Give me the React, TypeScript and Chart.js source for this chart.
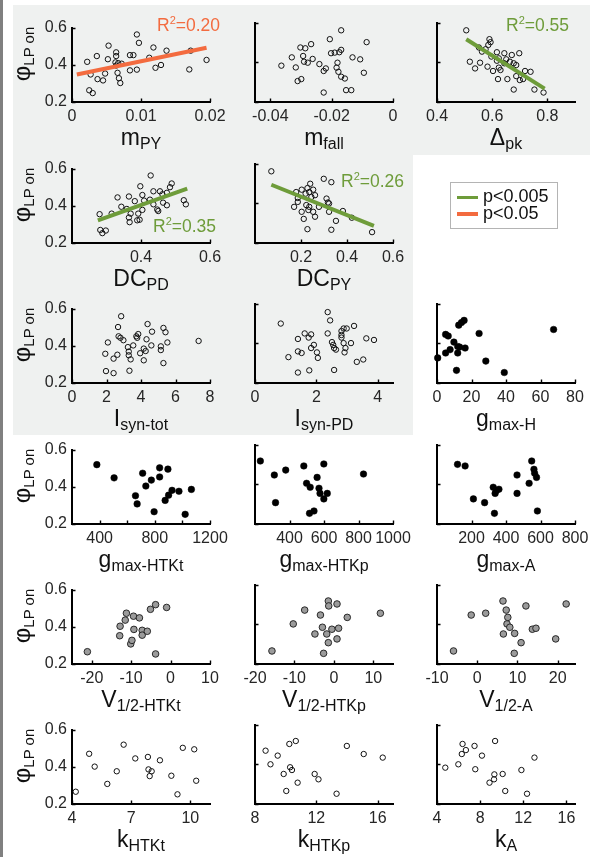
import React, { useEffect, useRef } from 'react';
import { Chart, registerables } from 'chart.js';

Chart.register(...registerables);

const FONT = '"Liberation Sans", Arial, Helvetica, sans-serif';
Chart.defaults.font.family = FONT;

const RED = '#F36B3F';
const GREEN = '#6E9C3A';
const GRAY_BG = '#EFF1F0';
const TICK_COLOR = '#262626';

// ---------- data ----------
type Pt = [number, number];

const yTicks = [0.2, 0.4, 0.6];
const yTickLabels = ['0.2', '0.4', '0.6'];

const mPY: Pt[] = [[0.0094,0.563],[0.0097,0.518],[0.0053,0.503],[0.0118,0.493],[0.0137,0.476],[0.0064,0.467],[0.0084,0.452],[0.0089,0.452],[0.0036,0.447],[0.0064,0.447],[0.0022,0.416],[0.0052,0.43],[0.0063,0.413],[0.0067,0.409],[0.0072,0.406],[0.0112,0.438],[0.0064,0.396],[0.0195,0.426],[0.0084,0.37],[0.0094,0.374],[0.0129,0.399],[0.0121,0.384],[0.017,0.375],[0.0172,0.476],[0.0027,0.348],[0.0048,0.353],[0.0066,0.357],[0.0037,0.323],[0.0045,0.316],[0.0068,0.328],[0.007,0.302],[0.0025,0.263],[0.003,0.248]];
const mPYFit: Pt[] = [[0.0007,0.348],[0.0195,0.492]];
const mPYTicks = [0, 0.01, 0.02];
const mPYLabels = ['0', '0.01', '0.02'];

const mFall: Pt[] = [[-0.0169,0.563],[-0.0206,0.518],[-0.0086,0.503],[-0.0267,0.493],[-0.0302,0.476],[-0.0286,0.472],[-0.0169,0.464],[-0.0175,0.452],[-0.019,0.45],[-0.0202,0.447],[-0.0293,0.433],[-0.033,0.426],[-0.0132,0.426],[-0.0107,0.416],[-0.0262,0.418],[-0.029,0.404],[-0.0278,0.399],[-0.024,0.392],[-0.0181,0.399],[-0.0364,0.384],[-0.0317,0.375],[-0.0219,0.37],[-0.0184,0.374],[-0.0226,0.357],[-0.0178,0.353],[-0.0095,0.348],[-0.0299,0.316],[-0.0311,0.306],[-0.0169,0.328],[-0.0157,0.319],[-0.0226,0.248],[-0.0153,0.26],[-0.0136,0.26]];
const mFallTicks = [-0.04, -0.02, 0];
const mFallLabels = ['-0.04', '-0.02', '0'];

const dPk: Pt[] = [[0.506,0.563],[0.59,0.518],[0.594,0.503],[0.586,0.489],[0.576,0.467],[0.552,0.476],[0.563,0.455],[0.617,0.452],[0.644,0.447],[0.698,0.447],[0.671,0.438],[0.597,0.43],[0.624,0.421],[0.651,0.416],[0.617,0.409],[0.664,0.404],[0.678,0.396],[0.687,0.387],[0.556,0.399],[0.644,0.396],[0.519,0.404],[0.583,0.379],[0.624,0.374],[0.63,0.362],[0.538,0.37],[0.719,0.357],[0.739,0.353],[0.603,0.357],[0.687,0.331],[0.7,0.311],[0.655,0.316],[0.712,0.316],[0.621,0.316],[0.678,0.263],[0.753,0.263],[0.786,0.248]];
const dPkFit: Pt[] = [[0.506,0.518],[0.79,0.268]];
const dPkTicks = [0.4, 0.6, 0.8];
const dPkLabels = ['0.4', '0.6', '0.8'];

const dcPD: Pt[] = [[0.428,0.563],[0.489,0.52],[0.398,0.505],[0.332,0.445],[0.365,0.45],[0.436,0.478],[0.455,0.478],[0.484,0.5],[0.462,0.462],[0.475,0.47],[0.404,0.458],[0.382,0.425],[0.409,0.428],[0.426,0.433],[0.436,0.408],[0.464,0.417],[0.524,0.43],[0.53,0.408],[0.475,0.403],[0.343,0.395],[0.359,0.383],[0.404,0.378],[0.37,0.358],[0.392,0.358],[0.447,0.38],[0.45,0.372],[0.28,0.355],[0.315,0.358],[0.365,0.337],[0.389,0.322],[0.396,0.325],[0.367,0.312],[0.282,0.27],[0.288,0.253],[0.298,0.267]];
const dcPDFit: Pt[] = [[0.275,0.322],[0.534,0.492]];
const dcPDTicks = [0.4, 0.6];
const dcPDLabels = ['0.4', '0.6'];

const dcPY: Pt[] = [[0.071,0.563],[0.299,0.525],[0.332,0.508],[0.24,0.5],[0.228,0.478],[0.203,0.47],[0.253,0.47],[0.236,0.458],[0.179,0.458],[0.22,0.45],[0.261,0.442],[0.186,0.428],[0.245,0.433],[0.311,0.425],[0.317,0.405],[0.186,0.408],[0.223,0.392],[0.236,0.383],[0.278,0.383],[0.322,0.4],[0.17,0.383],[0.232,0.367],[0.203,0.358],[0.253,0.358],[0.322,0.358],[0.382,0.362],[0.261,0.333],[0.212,0.322],[0.352,0.312],[0.421,0.328],[0.228,0.27],[0.332,0.267],[0.509,0.255]];
const dcPYFit: Pt[] = [[0.071,0.495],[0.517,0.287]];
const dcPYTicks = [0.2, 0.4, 0.6];
const dcPYLabels = ['0.2', '0.4', '0.6'];

const iSynTot: Pt[] = [[2.85,0.559],[2.67,0.501],[4.38,0.517],[5.3,0.496],[4.64,0.476],[5.42,0.473],[2.7,0.451],[2.81,0.443],[2.98,0.43],[3.73,0.451],[3.84,0.463],[3.78,0.443],[4.32,0.435],[2.08,0.418],[5.53,0.418],[7.34,0.426],[4.6,0.402],[3.55,0.402],[3.24,0.393],[4.16,0.385],[4.27,0.372],[5.15,0.397],[5.15,0.377],[1.93,0.357],[2.63,0.352],[3.29,0.369],[3.29,0.349],[3.95,0.36],[2.41,0.331],[3.4,0.327],[4.16,0.322],[5.3,0.307],[1.97,0.264],[2.41,0.253],[3.33,0.266]];
const iSynTotTicks = [0, 2, 4, 6, 8];
const iSynTotLabels = ['0', '2', '4', '6', '8'];

const iSynPD: Pt[] = [[2.37,0.559],[0.84,0.501],[2.45,0.517],[3.23,0.489],[2.89,0.476],[2.99,0.476],[2.82,0.463],[1.83,0.446],[1.62,0.451],[2.37,0.451],[2.82,0.443],[2.82,0.43],[1.4,0.423],[1.75,0.43],[3.63,0.426],[3.88,0.418],[2.51,0.407],[1.92,0.393],[2.55,0.393],[3.13,0.402],[2.89,0.402],[1.83,0.377],[2.58,0.377],[2.64,0.369],[2.95,0.377],[1.4,0.36],[1.52,0.352],[2.02,0.355],[2.92,0.355],[1.09,0.331],[2.05,0.327],[3.53,0.319],[3.32,0.307],[1.4,0.253],[1.77,0.264],[2.58,0.266]];
const iSynPDTicks = [0, 2, 4];
const iSynPDLabels = ['0', '2', '4'];

const gH: Pt[] = [[15.7,0.517],[14.2,0.506],[12.6,0.493],[67.6,0.471],[24.4,0.451],[5.0,0.446],[6.5,0.438],[9.8,0.407],[12.0,0.385],[7.6,0.369],[13.1,0.382],[16.3,0.377],[5.0,0.352],[12.0,0.352],[0.4,0.327],[28.3,0.311],[11.3,0.264],[39,0.253]];
const gHTicks = [0, 20, 40, 60, 80];
const gHLabels = ['0', '20', '40', '60', '80'];

const gHTKt: Pt[] = [[380,0.519],[505,0.448],[660,0.352],[672,0.308],[712,0.473],[735,0.404],[775,0.436],[795,0.266],[835,0.502],[835,0.453],[875,0.327],[895,0.495],[900,0.355],[925,0.381],[975,0.376],[1020,0.252],[1065,0.386]];
const gHTKtTicks = [400, 600, 800, 1000, 1200];
const gHTKtLabels = ['400', '', '800', '', '1200'];

const gHTKp: Pt[] = [[231,0.519],[312,0.448],[319,0.308],[378,0.473],[483,0.494],[499,0.406],[520,0.386],[516,0.254],[542,0.266],[560,0.436],[571,0.381],[577,0.355],[599,0.504],[599,0.327],[619,0.355],[829,0.453]];
const gHTKpTicks = [400, 600, 800, 1000];
const gHTKpLabels = ['400', '600', '800', '1000'];

const gA: Pt[] = [[119,0.502],[163,0.494],[211,0.327],[276,0.308],[326,0.386],[333,0.254],[337,0.355],[344,0.369],[359,0.376],[464,0.448],[464,0.355],[534,0.406],[549,0.519],[562,0.477],[566,0.457],[577,0.436],[582,0.266]];
const gATicks = [200, 400, 600, 800];
const gALabels = ['200', '400', '600', '800'];

const vHTKt: Pt[] = [[-21.1,0.266],[-12.9,0.352],[-12.8,0.403],[-11.5,0.436],[-11.2,0.473],[-10.1,0.308],[-9.8,0.327],[-9.4,0.457],[-9.3,0.386],[-7.9,0.448],[-7.2,0.381],[-7.2,0.355],[-5.9,0.376],[-5.1,0.494],[-3.8,0.519],[-3.8,0.254],[-1.0,0.504]];
const vHTKtTicks = [-20, -10, 0, 10];
const vHTKtLabels = ['-20', '-10', '0', '10'];

const vHTKp: Pt[] = [[-15.7,0.266],[-10.3,0.403],[-7.4,0.473],[-4.8,0.352],[-3.4,0.448],[-2.9,0.386],[-2.6,0.254],[-1.8,0.352],[-1.4,0.308],[-1.4,0.519],[-1.3,0.494],[-0.5,0.376],[0.8,0.504],[0.8,0.327],[1.2,0.381],[3.4,0.436],[11.8,0.457]];
const vHTKpTicks = [-20, -10, 0, 10];
const vHTKpLabels = ['-20', '-10', '0', '10'];

const vA: Pt[] = [[-5.9,0.266],[-1.5,0.448],[2.1,0.457],[6.4,0.519],[6.5,0.352],[7.2,0.473],[7.4,0.403],[7.6,0.436],[8.1,0.386],[9.2,0.254],[9.3,0.355],[10.9,0.308],[12.1,0.494],[13.7,0.376],[14.6,0.381],[19.5,0.327],[22.1,0.504]];
const vATicks = [-10, 0, 10, 20];
const vALabels = ['-10', '0', '10', '20'];

const kHTKt: Pt[] = [[4.19,0.266],[4.87,0.47],[5.15,0.401],[5.79,0.308],[6.27,0.376],[6.62,0.519],[7.21,0.445],[7.85,0.453],[7.88,0.386],[8.04,0.376],[7.94,0.35],[8.46,0.435],[9.04,0.352],[9.35,0.252],[9.62,0.502],[10.2,0.494],[10.3,0.325]];
const kHTKtTicks = [4, 7, 10];
const kHTKtLabels = ['4', '7', '10'];

const kHTKp: Pt[] = [[8.69,0.47],[9.01,0.401],[9.48,0.445],[9.87,0.352],[10.04,0.266],[10.24,0.504],[10.29,0.386],[10.41,0.372],[10.66,0.519],[10.78,0.308],[11.89,0.352],[12.14,0.325],[13.32,0.252],[13.99,0.494],[15.09,0.453],[16.33,0.435]];
const kHTKpTicks = [8, 12, 16];
const kHTKpLabels = ['8', '12', '16'];

const kA: Pt[] = [[4.77,0.384],[5.98,0.401],[6.37,0.504],[6.3,0.453],[6.68,0.473],[7.48,0.494],[7.55,0.376],[8.17,0.445],[8.87,0.308],[9.29,0.325],[9.32,0.35],[9.39,0.519],[10.09,0.352],[10.33,0.266],[11.83,0.372],[12.35,0.252],[13.04,0.435]];
const kATicks = [4, 8, 12, 16];
const kALabels = ['4', '8', '12', '16'];

const r2Values = ['0.20', '0.55', '0.35', '0.26'];
const legendLabels = ['p<0.005', 'p<0.05'];

// ---------- layout ----------
const COL_LEFT = [72, 255, 437];
const ROW_BOTTOM = [102, 243, 383, 524, 664, 804];
const PW = 138, PH = 79;
const YW = 50, PT = 10, PR = 34, XH = 30;
const CW = YW + PW + PR, CH = PT + PH + XH;

type Style = 'open' | 'filled' | 'gray';
interface PanelDef {
  row: number; col: number; pts: Pt[]; range: [number, number];
  ticks: number[]; labels: string[]; style: Style;
  main: string; sub: string; fit?: Pt[]; fitColor?: string;
}

const panels: PanelDef[] = [
  { row: 0, col: 0, pts: mPY, range: [0, 0.02], ticks: mPYTicks, labels: mPYLabels, style: 'open', main: 'm', sub: 'PY', fit: mPYFit, fitColor: RED },
  { row: 0, col: 1, pts: mFall, range: [-0.045, 0], ticks: mFallTicks, labels: mFallLabels, style: 'open', main: 'm', sub: 'fall' },
  { row: 0, col: 2, pts: dPk, range: [0.4, 0.9], ticks: dPkTicks, labels: dPkLabels, style: 'open', main: 'Δ', sub: 'pk', fit: dPkFit, fitColor: GREEN },
  { row: 1, col: 0, pts: dcPD, range: [0.2, 0.6], ticks: dcPDTicks, labels: dcPDLabels, style: 'open', main: 'DC', sub: 'PD', fit: dcPDFit, fitColor: GREEN },
  { row: 1, col: 1, pts: dcPY, range: [0, 0.6], ticks: dcPYTicks, labels: dcPYLabels, style: 'open', main: 'DC', sub: 'PY', fit: dcPYFit, fitColor: GREEN },
  { row: 2, col: 0, pts: iSynTot, range: [0, 8], ticks: iSynTotTicks, labels: iSynTotLabels, style: 'open', main: 'I', sub: 'syn-tot' },
  { row: 2, col: 1, pts: iSynPD, range: [0, 4.5], ticks: iSynPDTicks, labels: iSynPDLabels, style: 'open', main: 'I', sub: 'syn-PD' },
  { row: 2, col: 2, pts: gH, range: [0, 80], ticks: gHTicks, labels: gHLabels, style: 'filled', main: 'g', sub: 'max-H' },
  { row: 3, col: 0, pts: gHTKt, range: [200, 1200], ticks: gHTKtTicks, labels: gHTKtLabels, style: 'filled', main: 'g', sub: 'max-HTKt' },
  { row: 3, col: 1, pts: gHTKp, range: [200, 1000], ticks: gHTKpTicks, labels: gHTKpLabels, style: 'filled', main: 'g', sub: 'max-HTKp' },
  { row: 3, col: 2, pts: gA, range: [0, 800], ticks: gATicks, labels: gALabels, style: 'filled', main: 'g', sub: 'max-A' },
  { row: 4, col: 0, pts: vHTKt, range: [-25, 10], ticks: vHTKtTicks, labels: vHTKtLabels, style: 'gray', main: 'V', sub: '1/2-HTKt' },
  { row: 4, col: 1, pts: vHTKp, range: [-20, 15], ticks: vHTKpTicks, labels: vHTKpLabels, style: 'gray', main: 'V', sub: '1/2-HTKp' },
  { row: 4, col: 2, pts: vA, range: [-10, 24.3], ticks: vATicks, labels: vALabels, style: 'gray', main: 'V', sub: '1/2-A' },
  { row: 5, col: 0, pts: kHTKt, range: [4, 11], ticks: kHTKtTicks, labels: kHTKtLabels, style: 'open', main: 'k', sub: 'HTKt' },
  { row: 5, col: 1, pts: kHTKp, range: [8, 17], ticks: kHTKpTicks, labels: kHTKpLabels, style: 'open', main: 'k', sub: 'HTKp' },
  { row: 5, col: 2, pts: kA, range: [4, 16.8], ticks: kATicks, labels: kALabels, style: 'open', main: 'k', sub: 'A' },
];

const pointStyles: Record<Style, { r: number; bg: string; bc: string; bw: number }> = {
  open: { r: 2.7, bg: 'rgba(0,0,0,0)', bc: '#111', bw: 1 },
  filled: { r: 3.3, bg: '#000', bc: '#000', bw: 0.5 },
  gray: { r: 3.3, bg: '#9b9b9b', bc: '#1a1a1a', bw: 0.9 },
};

const inwardTicks = {
  id: 'inwardTicks',
  afterDraw(chart: any) {
    const { ctx, chartArea: a, scales } = chart;
    ctx.save();
    ctx.strokeStyle = '#000';
    ctx.lineWidth = 1.4;
    ctx.beginPath();
    for (const t of scales.x.ticks) {
      const px = Math.round(scales.x.getPixelForValue(t.value)) + 0.5;
      ctx.moveTo(px, a.bottom);
      ctx.lineTo(px, a.bottom - 3.5);
    }
    for (const t of scales.y.ticks) {
      const py = Math.round(scales.y.getPixelForValue(t.value)) + 0.5;
      ctx.moveTo(a.left, py);
      ctx.lineTo(a.left + 3.5, py);
    }
    ctx.stroke();
    ctx.restore();
  },
};

function makeConfig(p: PanelDef): any {
  const st = pointStyles[p.style];
  const datasets: any[] = [];
  if (p.fit) {
    datasets.push({
      type: 'line',
      data: p.fit.map(([x, y]) => ({ x, y })),
      borderColor: p.fitColor,
      borderWidth: 4,
      pointRadius: 0,
      fill: false,
      tension: 0,
      borderCapStyle: 'butt',
    });
  }
  datasets.push({
    type: 'scatter',
    data: p.pts.map(([x, y]) => ({ x, y })),
    pointRadius: st.r,
    pointBackgroundColor: st.bg,
    pointBorderColor: st.bc,
    pointBorderWidth: st.bw,
    clip: false,
  });
  const tickFont = { family: FONT, size: 16 };
  return {
    type: 'scatter',
    data: { datasets },
    options: {
      animation: false,
      responsive: false,
      maintainAspectRatio: false,
      devicePixelRatio: 1,
      events: [],
      layout: { padding: { left: 0, top: PT, right: PR, bottom: 0 } },
      plugins: { legend: { display: false }, tooltip: { enabled: false } },
      scales: {
        x: {
          type: 'linear',
          position: 'bottom',
          min: p.range[0],
          max: p.range[1],
          afterBuildTicks: (s: any) => { s.ticks = p.ticks.map((v) => ({ value: v })); },
          afterFit: (s: any) => { s.height = XH; },
          ticks: {
            callback: (_v: any, i: number) => p.labels[i],
            font: tickFont,
            color: TICK_COLOR,
            padding: 5,
            maxRotation: 0,
            autoSkip: false,
          },
          grid: { display: false, drawTicks: false },
          border: { display: true, color: '#000', width: 2 },
        },
        y: {
          type: 'linear',
          min: 0.2,
          max: 0.6,
          afterBuildTicks: (s: any) => { s.ticks = yTicks.map((v) => ({ value: v })); },
          afterFit: (s: any) => { s.width = YW; },
          ticks: {
            display: p.col === 0,
            callback: (_v: any, i: number) => yTickLabels[i],
            font: tickFont,
            color: TICK_COLOR,
            padding: 5,
          },
          grid: { display: false, drawTicks: false },
          border: { display: true, color: '#000', width: 2 },
        },
      },
    },
    plugins: [inwardTicks],
  };
}

function Panel({ p }: { p: PanelDef }) {
  const ref = useRef<HTMLCanvasElement>(null);
  useEffect(() => {
    const chart = new Chart(ref.current as HTMLCanvasElement, makeConfig(p));
    return () => chart.destroy();
  }, [p]);
  const left = COL_LEFT[p.col] - YW;
  const top = ROW_BOTTOM[p.row] - PH - PT;
  return (
    <canvas
      ref={ref}
      width={CW}
      height={CH}
      style={{ position: 'absolute', left, top, width: CW, height: CH }}
    />
  );
}

const ASC = 0.8465;

function Title({ p }: { p: PanelDef }) {
  const size = 23;
  const cx = COL_LEFT[p.col] + PW / 2;
  const baseline = ROW_BOTTOM[p.row] + 43;
  return (
    <div
      style={{
        position: 'absolute', left: cx - 100, width: 200, top: baseline - ASC * size,
        textAlign: 'center', fontFamily: FONT, fontSize: size, lineHeight: `${size}px`,
        color: '#111', whiteSpace: 'nowrap',
      }}
    >
      {p.main}
      <span style={{ fontSize: 16, position: 'relative', top: 4 }}>{p.sub}</span>
    </div>
  );
}

function YLabel({ row }: { row: number }) {
  const cx = 22;
  const cy = ROW_BOTTOM[row] - PH + 31;
  return (
    <div
      style={{
        position: 'absolute', left: cx - 40, top: cy - 15, width: 80, height: 30,
        lineHeight: '30px', textAlign: 'center', transform: 'rotate(-90deg)',
        fontFamily: FONT, fontSize: 24, color: '#111', whiteSpace: 'nowrap',
      }}
    >
      φ<span style={{ fontSize: 15, position: 'relative', top: 4 }}>LP on</span>
    </div>
  );
}

function R2({ left, baseline, color, value }: { left: number; baseline: number; color: string; value: string }) {
  const s = 17.5;
  return (
    <div
      style={{
        position: 'absolute', left, top: baseline - ASC * s, fontFamily: FONT,
        fontSize: s, lineHeight: `${s}px`, color, whiteSpace: 'nowrap',
      }}
    >
      R<span style={{ fontSize: 11, position: 'relative', top: -7 }}>2</span>={value}
    </div>
  );
}

function Legend() {
  const colors = [GREEN, RED];
  return (
    <div
      style={{
        position: 'absolute', left: 450, top: 182, width: 108, height: 47,
        boxSizing: 'border-box', border: '1px solid #b4b4b4', background: '#fff',
      }}
    >
      {legendLabels.map((lab, i) => (
        <React.Fragment key={lab}>
          <div style={{ position: 'absolute', left: 6, top: 12.5 + i * 16.6, width: 21, height: 3.5, background: colors[i] }} />
          <div
            style={{
              position: 'absolute', left: 32, top: 19.5 + i * 16.6 - ASC * 18, fontFamily: FONT,
              fontSize: 18, lineHeight: '18px', color: '#111', whiteSpace: 'nowrap',
            }}
          >
            {lab}
          </div>
        </React.Fragment>
      ))}
    </div>
  );
}

export default function App() {
  return (
    <div style={{ position: 'absolute', left: 0, top: 0, width: 593, height: 857, background: '#fff', overflow: 'hidden' }}>
      <div style={{ position: 'absolute', left: 13, top: 5, width: 577, height: 150, background: GRAY_BG }} />
      <div style={{ position: 'absolute', left: 13, top: 155, width: 400, height: 280, background: GRAY_BG }} />
      <div style={{ position: 'absolute', left: 0, top: 0, width: 3, height: 857, background: '#808080' }} />
      {panels.map((p) => <Panel key={`${p.row}-${p.col}`} p={p} />)}
      {panels.map((p) => <Title key={`t${p.row}-${p.col}`} p={p} />)}
      {[0, 1, 2, 3, 4, 5].map((r) => <YLabel key={r} row={r} />)}
      <R2 left={157} baseline={32} color={RED} value={r2Values[0]} />
      <R2 left={506} baseline={32} color={GREEN} value={r2Values[1]} />
      <R2 left={153} baseline={233} color={GREEN} value={r2Values[2]} />
      <R2 left={341} baseline={188} color={GREEN} value={r2Values[3]} />
      <Legend />
    </div>
  );
}
